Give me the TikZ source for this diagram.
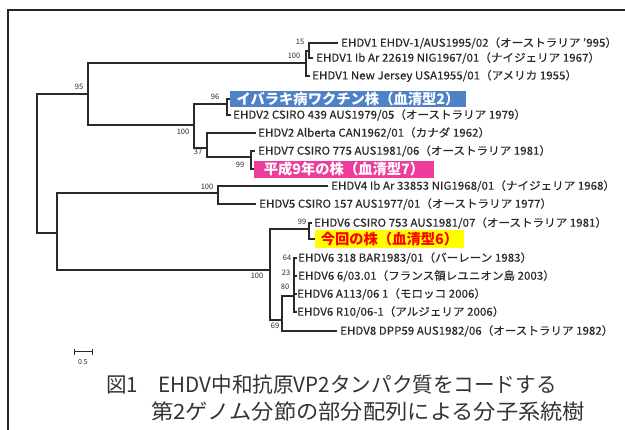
\documentclass[tikz,border=0pt]{standalone}
\usepackage{fontspec}
\setmainfont{Noto Sans CJK JP}
\newfontfamily\tipfont{Noto Sans CJK JP}[FakeStretch=1.05, FakeBold=0.4]
\newfontfamily\capAfont{Noto Sans CJK JP}[FakeStretch=0.98]
\newfontfamily\capBfont{Noto Sans CJK JP}[FakeStretch=1.06]
\definecolor{boxblue}{HTML}{4F81C7}
\definecolor{boxpink}{HTML}{EC3C9C}
\definecolor{boxyellow}{HTML}{FFFF00}
\definecolor{treeline}{HTML}{2A2A2A}
\begin{document}
\begin{tikzpicture}[x=1pt,y=-1pt,
  br/.style={line width=1.3pt, draw=treeline},
  tiplab/.style={anchor=west, inner sep=0pt, text=treeline, font=\tipfont\fontsize{11}{12}\selectfont},
  bs/.style={inner sep=0pt, text=treeline, font=\fontsize{7.5}{8}\selectfont},
  hilite/.style={inner sep=0pt, font=\fontsize{14.3}{16}\bfseries\selectfont},
  caption/.style={anchor=west, inner sep=0pt, text=black!80}]
\useasboundingbox (0,0) rectangle (625,430);
\draw[line width=2pt, draw=black!85] (8,430) -- (8,10) -- (625,10);

% internal nodes (x of node, y where parent branch arrives)
\coordinate (root) at (37,160);
\coordinate (nU) at (88,94);
\coordinate (nE) at (306,63);
\coordinate (nF) at (309,51);
\coordinate (nH) at (194,125);
\coordinate (nG) at (227,104);
\coordinate (nI) at (207,148);
\coordinate (nJ) at (251,157);
\coordinate (nL) at (57,233);
\coordinate (nK) at (218,193);
\coordinate (nA) at (270,270);
\coordinate (nB) at (309,229);
\coordinate (nC) at (282,320);
\coordinate (nD) at (294,296);
% tips (end of branch)
\coordinate (t1) at (338,43);
\coordinate (t2) at (313,58);
\coordinate (t3) at (310,76);
\coordinate (t4) at (230,99);
\coordinate (t5) at (231,115);
\coordinate (t6) at (256,133);
\coordinate (t7) at (255,151);
\coordinate (t8) at (254,169);
\coordinate (t9) at (328,186);
\coordinate (t10) at (256,204);
\coordinate (t11) at (312,223);
\coordinate (t12) at (315,239);
\coordinate (t13) at (297,258);
\coordinate (t14) at (297,276);
\coordinate (t15) at (297,294);
\coordinate (t16) at (297,312);
\coordinate (t17) at (337,331);

% branches
\draw[br] (root) |- (nU);
\draw[br] (root) |- (nL);
\draw[br] (nU) |- (nE);
\draw[br] (nU) |- (nH);
\draw[br] (nE) |- (nF);
\draw[br] (nF) |- (t1);
\draw[br] (nF) |- (t2);
\draw[br] (nE) |- (t3);
\draw[br] (nH) |- (nG);
\draw[br] (nH) |- (nI);
\draw[br] (nG) |- (t4);
\draw[br] (nG) |- (t5);
\draw[br] (nI) |- (t6);
\draw[br] (nI) |- (nJ);
\draw[br] (nJ) |- (t7);
\draw[br] (nJ) |- (t8);
\draw[br] (nL) |- (nK);
\draw[br] (nL) |- (nA);
\draw[br] (nK) |- (t9);
\draw[br] (nK) |- (t10);
\draw[br] (nA) |- (nB);
\draw[br] (nA) |- (nC);
\draw[br] (nB) |- (t11);
\draw[br] (nB) |- (t12);
\draw[br] (nC) |- (nD);
\draw[br] (nC) |- (t17);
\draw[br] (nD) |- (t13);
\draw[br] (nD) |- (t14);
\draw[br] (nD) |- (t15);
\draw[br] (nD) |- (t16);

% bootstrap values
\node[bs] (b95) at (79,87) {95};
\node[bs] (b15) at (300,42) {15};
\node[bs] (b100e) at (294,56) {100};
\node[bs] (b96) at (215,97) {96};
\node[bs] (b100h) at (183,132) {100};
\node[bs] (b37) at (198,152) {37};
\node[bs] (b99j) at (240,165) {99};
\node[bs] (b100k) at (207,187) {100};
\node[bs] (b100a) at (257,276) {100};
\node[bs] (b99b) at (302,222) {99};
\node[bs] (b64) at (287,258) {64};
\node[bs] (b23) at (286,273) {23};
\node[bs] (b80) at (285,287) {80};
\node[bs] (b69) at (275,326) {69};

% tip labels
\node[tiplab] (l1) at (341,43) {EHDV1 EHDV-1/AUS1995/02（オーストラリア ’995）};
\node[tiplab] (l2) at (316,58) {EHDV1 Ib Ar 22619 NIG1967/01（ナイジェリア 1967）};
\node[tiplab] (l3) at (312,76) {EHDV1 New Jersey USA1955/01（アメリカ 1955）};
\node[hilite, fill=boxblue, text=white, minimum width=236pt, minimum height=16pt] (l4) at (348,99) {イバラキ病ワクチン株（血清型2）};
\node[tiplab] (l5) at (233,115) {EHDV2 CSIRO 439 AUS1979/05（オーストラリア 1979）};
\node[tiplab] (l6) at (258,133) {EHDV2 Alberta CAN1962/01（カナダ 1962）};
\node[tiplab] (l7) at (258,151) {EHDV7 CSIRO 775 AUS1981/06（オーストラリア 1981）};
\node[hilite, fill=boxpink, text=white, minimum width=180pt, minimum height=17pt] (l8) at (344,169.5) {平成9年の株（血清型7）};
\node[tiplab] (l9) at (331,186) {EHDV4 Ib Ar 33853 NIG1968/01（ナイジェリア 1968）};
\node[tiplab] (l10) at (259,204) {EHDV5 CSIRO 157 AUS1977/01（オーストラリア 1977）};
\node[tiplab] (l11) at (314,223) {EHDV6 CSIRO 753 AUS1981/07（オーストラリア 1981）};
\node[hilite, fill=boxyellow, text=red, minimum width=149pt, minimum height=18pt] (l12) at (389.5,239) {今回の株（血清型6）};
\node[tiplab] (l13) at (298,258) {EHDV6 318 BAR1983/01（バーレーン 1983）};
\node[tiplab] (l14) at (298,276) {EHDV6 6/03.01（フランス領レユニオン島 2003）};
\node[tiplab] (l15) at (297,294) {EHDV6 A113/06 1（モロッコ 2006）};
\node[tiplab] (l16) at (297,312) {EHDV6 R10/06-1（アルジェリア 2006）};
\node[tiplab] (l17) at (340,331) {EHDV8 DPP59 AUS1982/06（オーストラリア 1982）};

% scale bar
\coordinate (sbL) at (74,352);
\coordinate (sbR) at (92,352);
\draw[line width=1pt, draw=treeline] (sbL) -- (sbR)
  ([yshift=-3pt]sbL) -- ([yshift=3pt]sbL)
  ([yshift=-3pt]sbR) -- ([yshift=3pt]sbR);
\node[bs, font=\fontsize{7}{8}\selectfont] (sblab) at (83,362) {0.5};

% caption
\node[caption, font=\capAfont\fontsize{21}{24}\selectfont] (cap1) at (106,385) {図1　EHDV中和抗原VP2タンパク質をコードする};
\node[caption, font=\capBfont\fontsize{21}{24}\selectfont] (cap2) at (151,412) {第2ゲノム分節の部分配列による分子系統樹};
\end{tikzpicture}
\end{document}
